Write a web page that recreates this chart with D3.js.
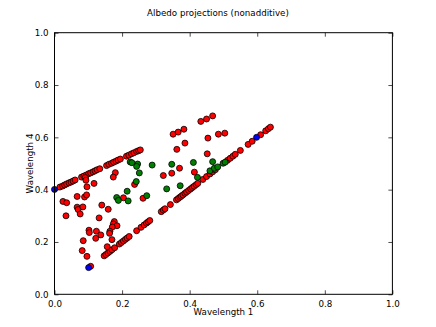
<!DOCTYPE html>
<html>
<head>
<meta charset="utf-8">
<script src="https://cdn.jsdelivr.net/npm/d3@7"></script>
<style>
  html, body { margin: 0; padding: 0; background: #fff; }
  svg text { font-family: "DejaVu Sans", sans-serif; }
</style>
</head>
<body>
<svg id="chart" width="436" height="327"></svg>
<script>
// ---- data ----
const titleText = "Albedo projections (nonadditive)";
const xLabel = "Wavelength 1";
const yLabel = "Wavelength 4";
const tickValues = [0.0, 0.2, 0.4, 0.6, 0.8, 1.0];

const redX = [
  0.016,0.024,0.030,0.036,0.043,0.049,0.055,0.061,0.080,0.087,0.094,0.101,0.107,0.114,0.120,0.126,0.134,
  0.154,0.161,0.169,0.175,0.182,0.188,0.195,0.213,0.220,0.228,0.235,0.243,0.249,0.254,
  0.147,0.152,0.158,0.164,0.170,0.178,0.192,0.198,0.204,0.210,0.215,0.221,0.243,0.256,0.265,0.272,0.277,0.282,
  0.316,0.322,0.327,0.343,0.361,0.366,0.371,0.375,0.380,0.386,0.391,0.397,0.403,0.408,0.413,0.419,0.424,
  0.439,0.450,0.460,0.468,0.476,0.512,0.520,0.528,0.535,0.550,0.573,0.585,0.610,0.625,0.633,0.639,
  0.351,0.366,0.383,0.433,0.450,0.468,0.362,0.386,0.454,0.452,0.485,0.504,0.370,0.322,0.347,0.414,
  0.262,0.237,0.180,0.174,0.091,0.093,0.096,0.117,0.067,0.089,0.095,0.025,0.036,0.067,0.070,0.084,
  0.076,0.140,0.159,0.034,0.132,0.177,0.174,0.185,0.171,0.102,0.103,0.124,0.137,0.122,0.164,0.163,
  0.170,0.085,0.082,0.096,0.107,0.156,0.204
];
const redY = [
  0.410,0.414,0.418,0.422,0.426,0.429,0.433,0.437,0.448,0.452,0.456,0.461,0.464,0.468,0.472,0.476,0.480,
  0.492,0.497,0.501,0.505,0.509,0.513,0.517,0.528,0.532,0.537,0.541,0.546,0.549,0.552,
  0.147,0.152,0.158,0.164,0.170,0.178,0.192,0.198,0.204,0.210,0.215,0.221,0.243,0.256,0.265,0.272,0.277,0.282,
  0.316,0.322,0.327,0.343,0.361,0.366,0.371,0.375,0.380,0.386,0.391,0.397,0.403,0.408,0.413,0.419,0.424,
  0.439,0.450,0.460,0.468,0.476,0.512,0.520,0.528,0.535,0.550,0.573,0.585,0.610,0.625,0.633,0.639,
  0.612,0.620,0.631,0.661,0.670,0.682,0.554,0.578,0.597,0.537,0.612,0.616,0.482,0.454,0.463,0.467,
  0.367,0.420,0.465,0.448,0.446,0.436,0.411,0.424,0.374,0.372,0.380,0.355,0.350,0.333,0.324,0.334,
  0.307,0.341,0.325,0.300,0.292,0.278,0.269,0.262,0.257,0.245,0.236,0.241,0.227,0.214,0.241,0.233,
  0.209,0.205,0.167,0.145,0.107,0.182,0.369
];
const greenX = [
  0.468,0.411,0.347,0.289,0.246,0.243,0.224,0.229,0.251,0.242,0.215,0.218,0.184,0.189,0.273,0.332,
  0.372,0.423,0.460,0.473,0.483,0.499,0.505
];
const greenY = [
  0.507,0.504,0.497,0.494,0.498,0.489,0.506,0.503,0.464,0.431,0.394,0.357,0.370,0.359,0.377,0.403,
  0.415,0.447,0.472,0.482,0.487,0.501,0.505
];
const blueX = [0.000, 0.101, 0.598];
const blueY = [0.401, 0.102, 0.600];

// ---- layout ----
const svg = d3.select("#chart");
const L = 54.5, R = 392.4, T = 32.7, B = 294.3;
const x = d3.scaleLinear().domain([0, 1]).range([L, R]);
const y = d3.scaleLinear().domain([0, 1]).range([B, T]);
const fs = 8.7;

// points
const series = [
  {xs: redX, ys: redY, color: "#ff0000"},
  {xs: greenX, ys: greenY, color: "#008000"},
  {xs: blueX, ys: blueY, color: "#0000ff"}
];
series.forEach(s => {
  svg.append("g").selectAll("circle")
    .data(s.xs.map((v, i) => [v, s.ys[i]]))
    .join("circle")
    .attr("cx", d => x(d[0]))
    .attr("cy", d => y(d[1]))
    .attr("r", 3)
    .attr("fill", s.color)
    .attr("stroke", "#000")
    .attr("stroke-width", 0.8);
});

// axes (ticks inward, all four sides)
const tickFmt = d3.format(".1f");
const axB = d3.axisBottom(x).tickValues(tickValues).tickFormat(tickFmt).tickSizeInner(-4).tickSizeOuter(0).tickPadding(7);
const axT = d3.axisTop(x).tickValues(tickValues).tickFormat("").tickSizeInner(-4).tickSizeOuter(0);
const axLf = d3.axisLeft(y).tickValues(tickValues).tickFormat(tickFmt).tickSizeInner(-4).tickSizeOuter(0).tickPadding(6);
const axRt = d3.axisRight(y).tickValues(tickValues).tickFormat("").tickSizeInner(-4).tickSizeOuter(0);

function style(g) {
  g.select(".domain").remove();
  g.selectAll("line").attr("stroke", "#000").attr("stroke-width", 0.7);
  g.selectAll("text").attr("font-size", fs).attr("fill", "#000")
    .style("font-family", "'DejaVu Sans', sans-serif");
}
svg.append("g").attr("transform", `translate(0,${B})`).call(axB).call(style);
svg.append("g").attr("transform", `translate(0,${T})`).call(axT).call(style);
svg.append("g").attr("transform", `translate(${L},0)`).call(axLf).call(style);
svg.append("g").attr("transform", `translate(${R},0)`).call(axRt).call(style);

// frame
svg.append("rect")
  .attr("x", L).attr("y", T)
  .attr("width", R - L).attr("height", B - T)
  .attr("fill", "none").attr("stroke", "#000").attr("stroke-width", 1);

// texts
svg.append("text").attr("x", (L + R) / 2 - 5.5).attr("y", 16)
  .attr("text-anchor", "middle").attr("font-size", fs).text(titleText);
svg.append("text").attr("x", (L + R) / 2).attr("y", 315)
  .attr("text-anchor", "middle").attr("font-size", fs).text(xLabel);
svg.append("text")
  .attr("transform", `translate(32.5,${(T + B) / 2}) rotate(-90)`)
  .attr("text-anchor", "middle").attr("font-size", fs).text(yLabel);
</script>
</body>
</html>
